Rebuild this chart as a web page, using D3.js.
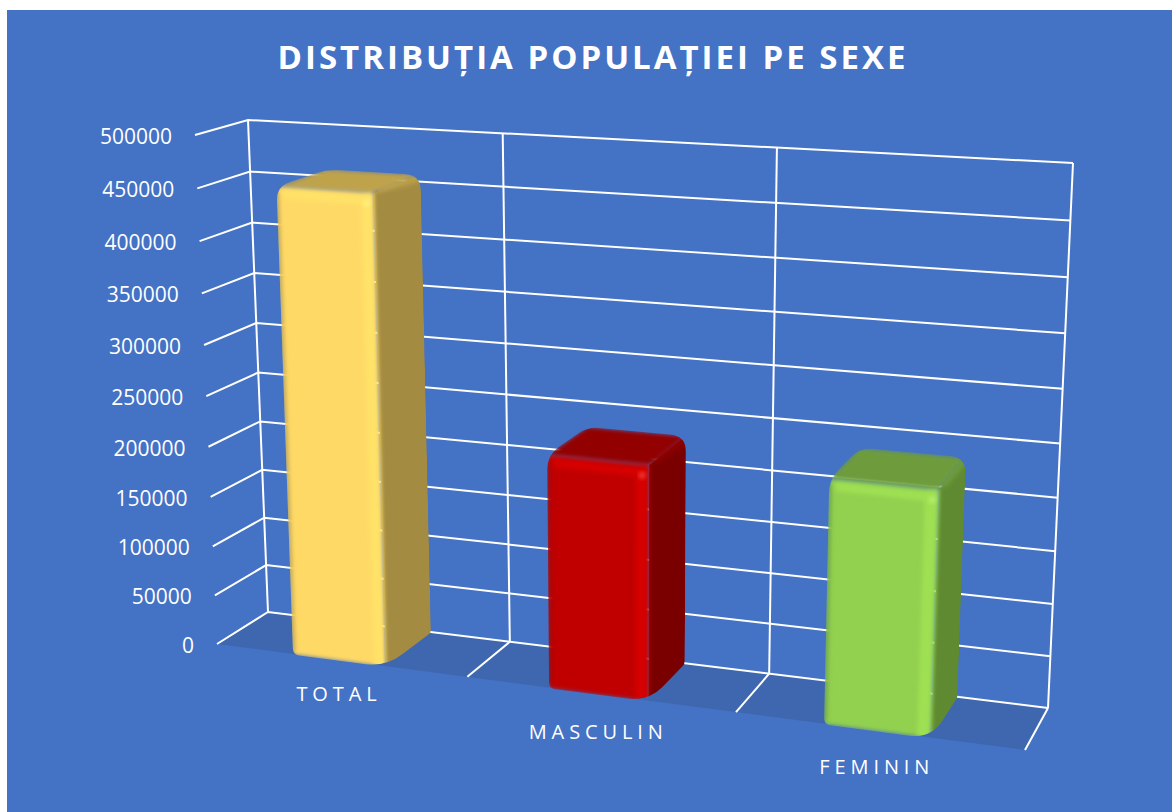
<!DOCTYPE html>
<html>
<head>
<meta charset="utf-8">
<script src="https://d3js.org/d3.v7.min.js"></script>
<style>
  html, body { margin: 0; padding: 0; background: #fff; }
  svg { display: block; }
  text { font-family: "Open Sans", sans-serif; fill: #fff; }
</style>
</head>
<body>
<div id="chart"></div>
<script>
// Data
var categories = ["TOTAL", "MASCULIN", "FEMININ"];
var population = [457000, 226000, 230000];
var valueTicks = [0, 50000, 100000, 150000, 200000, 250000, 300000, 350000, 400000, 450000, 500000];
var chartTitle = "DISTRIBUȚIA POPULAȚIEI PE SEXE";

// Colours per bar: front, side, top, light bevel, dark bevel, highlight
var barFront = ["#FFD966", "#C00000", "#92D050"];
var barSide = ["#A38B42", "#7A0000", "#5F8A32"];
var barTop = ["#BFA34C", "#930000", "#6E9C3C"];
var barLight = ["#FFE268", "#D60404", "#9FE052"];
var barDark = ["#D9B54E", "#A00000", "#76AD3E"];
var barSpot = ["#FFF27A", "#F03A30", "#B6EE6A"];

var width = 1172, height = 812;

// how far each category label sits under the floor edge
var labelDrop = [41, 45, 43];

var svg = d3.select("#chart").append("svg")
  .attr("width", width)
  .attr("height", height);

var defs = svg.append("defs");
defs.append("filter").attr("id", "soft").attr("x", "-20%").attr("y", "-20%").attr("width", "140%").attr("height", "140%")
  .append("feGaussianBlur").attr("stdDeviation", 2);
defs.append("filter").attr("id", "softer").attr("x", "-60%").attr("y", "-60%").attr("width", "220%").attr("height", "220%")
  .append("feGaussianBlur").attr("stdDeviation", 2.6);

// Background panel
svg.append("rect").attr("x", 7).attr("y", 10).attr("width", width - 7).attr("height", height - 10).attr("fill", "#4472C4");

svg.append("text")
  .attr("x", 593).attr("y", 69)
  .attr("text-anchor", "middle")
  .style("font-size", "33px").style("font-weight", "700").style("letter-spacing", "3px")
  .text(chartTitle);

// Perspective box: back wall and the front plane of the chart
function homography(q) {
  // unit square -> quad, q = [p00, p10, p11, p01] with (u, v), v up
  var dx1 = q[1][0] - q[2][0], dx2 = q[3][0] - q[2][0], sx = q[0][0] - q[1][0] + q[2][0] - q[3][0];
  var dy1 = q[1][1] - q[2][1], dy2 = q[3][1] - q[2][1], sy = q[0][1] - q[1][1] + q[2][1] - q[3][1];
  var den = dx1 * dy2 - dx2 * dy1;
  var g = (sx * dy2 - dx2 * sy) / den, h = (dx1 * sy - sx * dy1) / den;
  var a = q[1][0] - q[0][0] + g * q[1][0], b = q[3][0] - q[0][0] + h * q[3][0], c = q[0][0];
  var d = q[1][1] - q[0][1] + g * q[1][1], e = q[3][1] - q[0][1] + h * q[3][1], f = q[0][1];
  return function(u, v) {
    var w = g * u + h * v + 1;
    return [(a * u + b * v + c) / w, (d * u + e * v + f) / w];
  };
}
var backWall = homography([[268, 612], [1048, 708], [1073, 163], [248, 120]]);
var frontWall = homography([[217, 644], [1025, 750], [1049, 186], [195, 135]]);

// u across the categories, v up the value axis, d from back (0) to front (1)
function project(u, v, d) {
  var b = backWall(u, v), f = frontWall(u, v);
  return [b[0] + (f[0] - b[0]) * d, b[1] + (f[1] - b[1]) * d];
}

var yScale = d3.scaleLinear().domain([0, 500000]).range([0, 1]);
var xScale = d3.scaleBand().domain(categories).range([0, 1]).paddingInner(0.63).paddingOuter(0.315);
var zScale = d3.scaleLinear().domain([0, 1]).range([0.02, 1.02]);
var line = d3.line();

function pathOf(pts) { return line(pts) + "Z"; }

// polygon with rounded corners, r is one radius per point
function roundedPath(pts, r) {
  var p = d3.path(), n = pts.length;
  pts.forEach(function(c, i) {
    var a = pts[(i + n - 1) % n], b = pts[(i + 1) % n];
    var la = Math.hypot(a[0] - c[0], a[1] - c[1]), lb = Math.hypot(b[0] - c[0], b[1] - c[1]);
    var s = [c[0] + (a[0] - c[0]) * r[i] / la, c[1] + (a[1] - c[1]) * r[i] / la];
    var e = [c[0] + (b[0] - c[0]) * r[i] / lb, c[1] + (b[1] - c[1]) * r[i] / lb];
    if (i === 0) p.moveTo(s[0], s[1]); else p.lineTo(s[0], s[1]);
    p.quadraticCurveTo(c[0], c[1], e[0], e[1]);
  });
  p.closePath();
  return p.toString();
}

// Floor
svg.append("path")
  .attr("d", pathOf([project(0, 0, 0), project(1, 0, 0), project(1, 0, 1), project(0, 0, 1)]))
  .attr("fill", "#3E67B0");

// Grid: horizontal lines on the back wall and the side wall
var grid = svg.append("g").attr("fill", "none").attr("stroke", "#fff").attr("stroke-width", 2);
valueTicks.forEach(function(t) {
  var v = yScale(t);
  grid.append("path").attr("d", line([project(0, v, 1), project(0, v, 0), project(1, v, 0)]));
});
// Vertical wall lines and floor lines at the category borders
[0, 1 / 3, 2 / 3, 1].forEach(function(u) {
  grid.append("path").attr("d", line([project(u, 1, 0), project(u, 0, 0)]));
  if (u > 0) grid.append("path").attr("d", line([project(u, 0, 0), project(u, 0, 1)]));
});

// Axis labels
svg.append("g").selectAll("text").data(valueTicks).enter().append("text")
  .attr("x", function(d) { return project(0, yScale(d), 1)[0] - 23; })
  .attr("y", function(d) { return project(0, yScale(d), 1)[1] + 9; })
  .attr("text-anchor", "end")
  .style("font-size", "21px")
  .text(function(d) { return d; });

svg.append("g").selectAll("text").data(categories).enter().append("text")
  .attr("x", function(d) { return project(xScale(d) + xScale.bandwidth() / 2, 0, 1)[0] - 1; })
  .attr("y", function(d, i) { return project(xScale(d) + xScale.bandwidth() / 2, 0, 1)[1] + labelDrop[i]; })
  .attr("text-anchor", "middle")
  .style("font-size", "20px")
  .style("letter-spacing", "4.9px")
  .text(function(d) { return d; });

// Bars, they do not overlap so the order is free
categories.forEach(function(cat, i) {
  var u0 = xScale(cat), u1 = u0 + xScale.bandwidth();
  var v = yScale(population[i]);
  var dB = zScale(0), dF = zScale(1);

  var fbl = project(u0, 0, dF), fbr = project(u1, 0, dF), ftl = project(u0, v, dF), ftr = project(u1, v, dF);
  var bbr = project(u1, 0, dB), btr = project(u1, v, dB), btl = project(u0, v, dB);

  var outline = [fbl, ftl, btl, btr, bbr, fbr];
  var clipId = "bar-clip-" + i;
  defs.append("clipPath").attr("id", clipId)
    .append("path").attr("d", roundedPath(outline, [6, 14, 12, 16, 3, 22]));

  var g = svg.append("g").attr("clip-path", "url(#" + clipId + ")");

  // side and top
  g.append("path").attr("d", pathOf([ftr, btr, bbr, fbr])).attr("fill", barSide[i]);
  g.append("path").attr("d", pathOf([ftl, btl, btr, ftr])).attr("fill", barTop[i]).attr("filter", "url(#soft)");

  // soft ridge between top and side
  g.append("path").attr("d", line([[ftr[0] + 4, ftr[1] - 4], [btr[0] - 2, btr[1] + 4]]))
    .attr("stroke", barTop[i]).attr("stroke-width", 6).attr("fill", "none").attr("filter", "url(#softer)");

  // front face
  g.append("path").attr("d", pathOf([fbl, ftl, ftr, fbr])).attr("fill", barFront[i]).attr("filter", "url(#soft)");

  // bevels on the front face
  var bevel = g.append("g").attr("filter", "url(#soft)");
  var rightEdge = 0.13;
  var stripBottomIn = [fbr[0] + (fbl[0] - fbr[0]) * rightEdge, fbr[1] + (fbl[1] - fbr[1]) * rightEdge];
  var stripTopIn = [ftr[0] + (ftl[0] - ftr[0]) * rightEdge, ftr[1] + (ftl[1] - ftr[1]) * rightEdge + 3];
  bevel.append("path").attr("d", pathOf([stripBottomIn, stripTopIn, [ftr[0] - 2, ftr[1]], [fbr[0] - 2, fbr[1]]])).attr("fill", barLight[i]);
  bevel.append("path")
    .attr("d", pathOf([[ftl[0] + 6, ftl[1] + 3], [ftr[0] - 4, ftr[1] + 3], [ftr[0] - 6, ftr[1] + 12], [ftl[0] + 6, ftl[1] + 12]]))
    .attr("fill", barLight[i]);
  bevel.append("path").attr("d", line([[ftl[0] + 1, ftl[1] + 6], [fbl[0] + 1, fbl[1] - 4]]))
    .attr("stroke", barDark[i]).attr("stroke-width", 3).attr("fill", "none");

  // corner highlight
  g.append("circle").attr("cx", ftr[0] - 7).attr("cy", ftr[1] + 10).attr("r", 3.5)
    .attr("fill", barSpot[i]).attr("filter", "url(#soft)");
});
</script>
</body>
</html>
